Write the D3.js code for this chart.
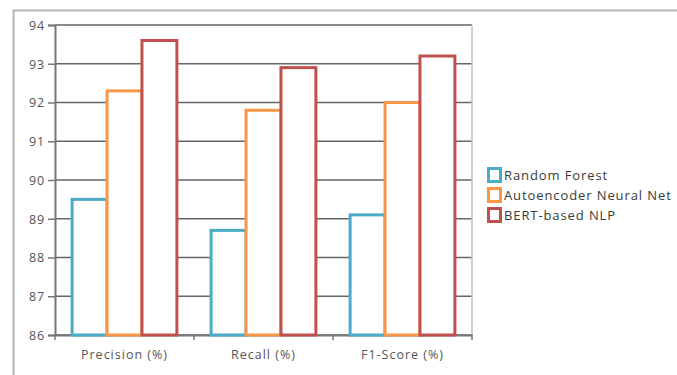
<!DOCTYPE html>
<html>
<head>
<meta charset="utf-8">
<script src="https://cdn.jsdelivr.net/npm/d3@7"></script>
<style>
  html, body { margin: 0; padding: 0; background: #fff; }
  svg { display: block; }
  text { font-family: "Open Sans", "Segoe UI", sans-serif; }
</style>
</head>
<body>
<svg id="chart" width="677" height="375"></svg>
<script>
// Metric categories and model scores
const categories = ["Precision (%)", "Recall (%)", "F1-Score (%)"];
const seriesNames = ["Random Forest", "Autoencoder Neural Net", "BERT-based NLP"];
const randomForest = [89.5, 88.7, 89.1];
const autoencoder = [92.3, 91.8, 92.0];
const bertNlp = [93.6, 92.9, 93.2];
const yTicks = [86, 87, 88, 89, 90, 91, 92, 93, 94];
const colors = ["#4bacc6", "#f79646", "#c0504d"];

const seriesValues = [randomForest, autoencoder, bertNlp];
const rows = categories.map((c, i) => ({
  category: c,
  values: seriesNames.map((s, j) => ({ series: s, idx: j, value: seriesValues[j][i] }))
}));

const svg = d3.select("#chart");
const plot = { left: 55, right: 472, top: 25, bottom: 335 };

// Outer frame
svg.append("path")
  .attr("d", `M13.5,${375} V10.5 H677`)
  .attr("fill", "none").attr("stroke", "#b4b4b4").attr("stroke-width", 2);

const x0 = d3.scaleBand().domain(categories).range([plot.left, plot.right]).paddingInner(0).paddingOuter(0);
const x1 = d3.scaleBand().domain(seriesNames).range([0, x0.bandwidth()]).paddingInner(0).paddingOuter(0.49);
const y = d3.scaleLinear().domain([86, 94]).range([plot.bottom, plot.top]);

// Horizontal gridlines
svg.append("g").selectAll("line").data(yTicks).join("line")
  .attr("x1", plot.left).attr("x2", plot.right)
  .attr("y1", d => y(d)).attr("y2", d => y(d))
  .attr("stroke", "#666").attr("stroke-width", 1.7);

// Right border of plot area
svg.append("line")
  .attr("x1", plot.right).attr("x2", plot.right)
  .attr("y1", plot.top).attr("y2", plot.bottom)
  .attr("stroke", "#c4c4c4").attr("stroke-width", 1.6);

// Y axis
const yAxis = d3.axisLeft(y).tickValues(yTicks).tickSize(7).tickPadding(3).tickFormat(d3.format("d"));
const gy = svg.append("g").attr("transform", `translate(${plot.left},0)`).call(yAxis);
gy.select(".domain").attr("stroke", "#777").attr("stroke-width", 2);
gy.selectAll(".tick line").attr("stroke", "#777").attr("stroke-width", 1.5);
gy.selectAll(".tick text").attr("fill", "#555").style("font-size", "12.5px")
  .style("letter-spacing", "0.8px").attr("dy", "0.35em");

// X axis
const xAxis = d3.axisBottom(x0).tickSize(0).tickPadding(15);
const gx = svg.append("g").attr("transform", `translate(0,${plot.bottom})`).call(xAxis);
gx.select(".domain").attr("stroke", "#777").attr("stroke-width", 2);
gx.selectAll(".tick text").attr("fill", "#555").style("font-size", "12.5px")
  .style("letter-spacing", "1px");
// Category boundary ticks
const bounds = categories.map(c => x0(c)).concat([plot.right]);
svg.append("g").selectAll("line").data(bounds).join("line")
  .attr("x1", d => d).attr("x2", d => d)
  .attr("y1", plot.bottom).attr("y2", plot.bottom + 5)
  .attr("stroke", "#777").attr("stroke-width", 1.5);

// Bars: white fill, coloured outline sitting on the baseline
const bw = x1.bandwidth();
svg.append("g").selectAll("g").data(rows).join("g")
  .attr("transform", d => `translate(${x0(d.category)},0)`)
  .selectAll("rect").data(d => d.values).join("rect")
  .attr("x", d => x1(d.series))
  .attr("width", bw)
  .attr("y", d => y(d.value))
  .attr("height", d => y(86) - y(d.value))
  .attr("fill", "#fff")
  .attr("stroke", d => colors[d.idx])
  .attr("stroke-width", 3);

// Legend
const legend = svg.append("g").attr("transform", "translate(488,168)");
const item = legend.selectAll("g").data(seriesNames).join("g")
  .attr("transform", (d, i) => `translate(0,${i * 20})`);
item.append("rect")
  .attr("x", 0.5).attr("y", 0.5).attr("width", 12).attr("height", 13)
  .attr("fill", "#fff")
  .attr("stroke", (d, i) => colors[i]).attr("stroke-width", 3);
item.append("text")
  .attr("x", 16).attr("y", 7).attr("dy", "0.35em")
  .attr("fill", "#3a3a3a").style("font-size", "13px")
  .style("letter-spacing", "0.9px")
  .text(d => d);
</script>
</body>
</html>
